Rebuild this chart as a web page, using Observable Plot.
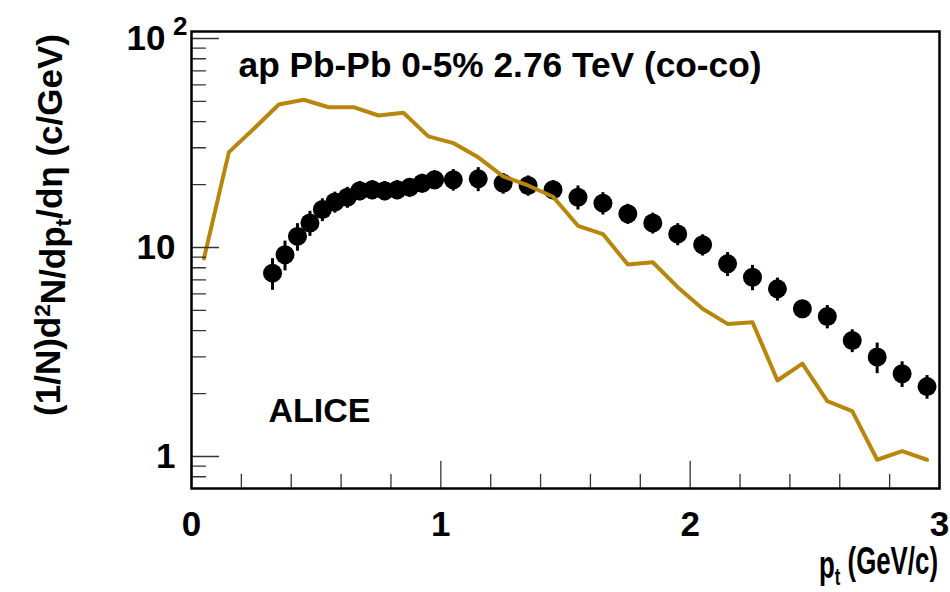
<!DOCTYPE html>
<html>
<head>
<meta charset="utf-8">
<script src="https://cdn.jsdelivr.net/npm/d3@7"></script>
<script src="https://cdn.jsdelivr.net/npm/@observablehq/plot@0.6"></script>
<style>
  html, body { margin: 0; padding: 0; background: white; }
  #chart { width: 950px; height: 592px; }
</style>
</head>
<body>
<div id="chart"></div>
<script>
// ALICE data points (pt, yield, error)
const dataX = [0.325,0.375,0.425,0.475,0.525,0.575,0.625,0.675,0.725,0.775,0.825,0.875,0.925,0.975,
               1.05,1.15,1.25,1.35,1.45,1.55,1.65,1.75,1.85,1.95,2.05,2.15,2.25,2.35,2.45,2.55,2.65,2.75,2.85,2.95];
const dataY = [7.54,9.23,11.3,13.1,15.2,16.5,17.4,18.7,18.9,18.7,18.9,19.4,20.3,21.1,
               21.1,21.3,20.3,19.8,18.9,17.4,16.3,14.5,13.1,11.6,10.3,8.36,7.21,6.34,5.09,4.68,3.59,2.99,2.49,2.16];
const dataErr = [1.3,1.5,1.7,1.8,1.9,1.9,2.0,2.0,2.0,2.0,2.0,2.0,2.1,2.2,
                 2.5,2.8,2.3,2.2,2.0,2.3,2.0,1.6,1.5,1.4,1.2,1.1,1.0,0.8,0.5,0.6,0.45,0.5,0.35,0.28];

// Model curve (co-co)
const modelX = [0.05,0.15,0.25,0.35,0.45,0.55,0.65,0.75,0.85,0.95,1.05,1.15,1.25,1.35,1.45,
                1.55,1.65,1.75,1.85,1.95,2.05,2.15,2.25,2.35,2.45,2.55,2.65,2.75,2.85,2.95];
const modelY = [8.86,28.6,37.0,48.3,50.9,46.9,46.9,42.8,44.1,34.0,31.6,27.0,21.9,19.8,17.5,
                12.7,11.6,8.29,8.5,6.46,5.09,4.31,4.39,2.31,2.78,1.84,1.65,0.965,1.06,0.965];

// Axis ticks and labels
const xMajorTicks = [0,1,2,3];
const xMinorTicks = [0.2,0.4,0.6,0.8,1.2,1.4,1.6,1.8,2.2,2.4,2.6,2.8];
const xTickLabels = ["0","1","2","3"];
const yMajorTicks = [1,10,100];
const yMinorTicks = [0.8,0.9,2,3,4,5,6,7,8,9,20,30,40,50,60,70,80,90];
const yTickLabels = ["1","10"];
const yTickLabelValues = [1,10];

const titleText = "ap Pb-Pb 0-5% 2.76 TeV (co-co)";
const expText = "ALICE";

const points = dataX.map((x, i) => ({x, y: dataY[i], lo: dataY[i] - dataErr[i], hi: dataY[i] + dataErr[i]}));
const model = modelX.map((x, i) => ({x, y: modelY[i]}));
const xLabels = xMajorTicks.map((v, i) => ({v, t: xTickLabels[i]}));
const yLabels = yTickLabelValues.map((v, i) => ({v, t: yTickLabels[i]}));

const FONT = "'Liberation Sans', Arial, Helvetica, sans-serif";
const tickShape = { draw(context, l) { context.moveTo(0, 0); context.lineTo(0, -l); } };

const plot = Plot.plot({
  width: 950,
  height: 592,
  marginLeft: 191,
  marginRight: 11,
  marginTop: 31,
  marginBottom: 104,
  x: { domain: [0, 3], axis: null },
  y: { type: "log", domain: [0.703, 108], axis: null },
  style: { fontFamily: FONT, background: "white", color: "black" },
  marks: [
    // error bars
    Plot.ruleX(points, { x: "x", y1: "lo", y2: "hi", stroke: "black", strokeWidth: 3 }),
    Plot.dot(points, { x: "x", y: "y", r: 9.5, fill: "black", stroke: "none" }),
    // model line on top
    Plot.line(model, { x: "x", y: "y", stroke: "#b8860b", strokeWidth: 4, strokeLinejoin: "round" }),
    // ticks
    Plot.vector(xMajorTicks, { x: d => d, frameAnchor: "bottom", length: 27, anchor: "start", rotate: 0, shape: tickShape, stroke: "#333", strokeWidth: 1.3 }),
    Plot.vector(xMinorTicks, { x: d => d, frameAnchor: "bottom", length: 14, anchor: "start", rotate: 0, shape: tickShape, stroke: "#333", strokeWidth: 1.3 }),
    Plot.vector(yMajorTicks, { y: d => d, frameAnchor: "left", length: 27, anchor: "start", rotate: 90, shape: tickShape, stroke: "#333", strokeWidth: 1.3 }),
    Plot.vector(yMinorTicks, { y: d => d, frameAnchor: "left", length: 14, anchor: "start", rotate: 90, shape: tickShape, stroke: "#333", strokeWidth: 1.3 }),
    Plot.frame({ stroke: "black", strokeWidth: 2.5 }),
    // tick labels
    Plot.text(xLabels, { x: "v", text: "t", frameAnchor: "bottom", dy: 47, lineAnchor: "bottom", fontSize: 35, fontWeight: "bold", fill: "black" }),
    Plot.text(yLabels, { y: "v", text: "t", frameAnchor: "left", dx: -16, textAnchor: "end", lineAnchor: "middle", fontSize: 35, fontWeight: "bold", fill: "black" }),
    Plot.text([100], { y: d => d, text: d => "10", frameAnchor: "left", dx: -26, textAnchor: "end", lineAnchor: "middle", fontSize: 35, fontWeight: "bold", fill: "black" }),
    Plot.text([100], { y: d => d, text: d => "2", frameAnchor: "left", dx: -4, dy: -12, textAnchor: "end", lineAnchor: "middle", fontSize: 26, fontWeight: "bold", fill: "black" }),
    // annotations
    Plot.text([titleText], { text: d => d, frameAnchor: "top-left", dx: 47, dy: 45, textAnchor: "start", lineAnchor: "bottom", fontSize: 35.3, fontWeight: "bold", fill: "black" }),
    Plot.text([expText], { text: d => d, frameAnchor: "top-left", dx: 77, dy: 390, textAnchor: "start", lineAnchor: "bottom", fontSize: 34, fontWeight: "bold", fill: "black" })
  ]
});

const svg = d3.select(plot);
// y-axis title
const yt = svg.append("text")
  .attr("transform", "translate(60,225) rotate(-90)")
  .attr("text-anchor", "middle")
  .attr("font-family", FONT).attr("font-weight", "bold").attr("font-size", 35).attr("fill", "black");
yt.append("tspan").text("(1/N)d");
yt.append("tspan").attr("dy", "-0.42em").attr("font-size", "0.65em").text("2");
yt.append("tspan").attr("dy", "0.42em").text("N/dp");
yt.append("tspan").attr("dy", "0.25em").attr("font-size", "0.65em").text("t");
yt.append("tspan").attr("dy", "-0.25em").text("/d\u03B7 (c/GeV)");
// x-axis title (horizontally condensed like the original)
const xt = svg.append("text")
  .attr("transform", "translate(938,578) scale(0.68,1)")
  .attr("text-anchor", "end")
  .attr("font-family", FONT).attr("font-weight", "bold").attr("font-size", 38).attr("fill", "black");
xt.append("tspan").text("p");
xt.append("tspan").attr("dy", "0.3em").attr("font-size", "0.65em").text("t");
xt.append("tspan").attr("dy", "-0.3em").text(" (GeV/c)");

document.getElementById("chart").appendChild(plot);
</script>
</body>
</html>
